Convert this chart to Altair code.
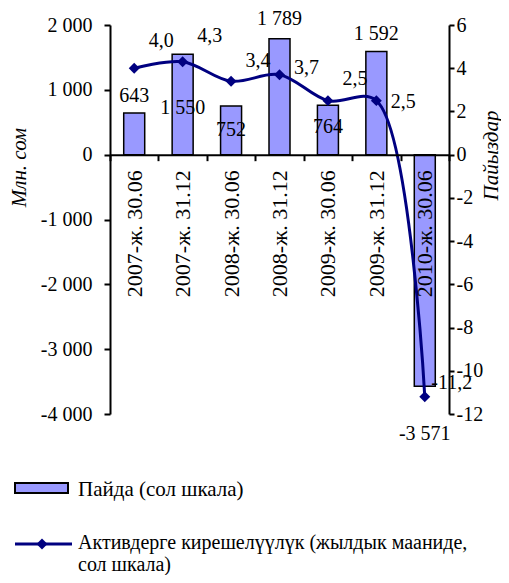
import altair as alt
import pandas as pd

categories = ["2007-ж. 30.06", "2007-ж. 31.12", "2008-ж. 30.06", "2008-ж. 31.12",
              "2009-ж. 30.06", "2009-ж. 31.12", "2010-ж. 30.06"]
profit = [643, 1550, 752, 1789, 764, 1592, -3571]
roa = [4.0, 4.3, 3.4, 3.7, 2.5, 2.5, -11.2]

left_ticks = [-4000, -3000, -2000, -1000, 0, 1000, 2000]
right_ticks = [-12, -10, -8, -6, -4, -2, 0, 2, 4, 6]

# label placement offsets (pixels, downward positive), as in the source chart
bar_label_dy = [-17, 54, 24, -20, 22, -17, 48]
line_label_dy = [-27, -26, -20, -7, -22, 1, -14]

legend_bar = "Пайда (сол шкала)"
legend_line_1 = "Активдерге кирешелүүлүк (жылдык мааниде,"
legend_line_2 = "сол шкала)"

FONT = "'Liberation Serif', 'Times New Roman', Times, serif"
NAVY = "#000080"
BAR = "#9999FF"

W, H = 339, 389
zero_px = H * 2000 / 6000
L_PER_PX = 6000 / H
R_PER_PX = 18 / H

df = pd.DataFrame({
    "cat": categories, "profit": profit, "roa": roa,
    "bdy": bar_label_dy, "ldy": line_label_dy,
})
one = pd.DataFrame({"k": [0]})

x_axis = alt.Axis(title=None, labelAngle=-90, orient="bottom",
                  offset=-(H - zero_px), tickBand="extent",
                  domainColor="black", domainWidth=2,
                  tickColor="black", tickWidth=2, tickSize=6,
                  labelFontSize=22, labelPadding=9, labelColor="black",
                  labelFont=FONT, zindex=1)
x_enc = alt.X("cat:N", sort=categories,
              scale=alt.Scale(paddingInner=0, paddingOuter=0), axis=x_axis)

lscale = alt.Scale(domain=[-4000, 2000], nice=False, zero=False)
rscale = alt.Scale(domain=[-12, 6], nice=False, zero=False)

left_axis = alt.Axis(
    title="Млн. сом", titleFont=FONT, titleFontStyle="italic", titleFontWeight="normal",
    titleFontSize=21, titleColor="black", titleAngle=-90, titleX=-91, titleY=142,
    titleAlign="center", titleBaseline="middle",
    values=left_ticks, grid=False, domainColor="black", domainWidth=2,
    tickColor="black", tickWidth=2, tickSize=6, labelFontSize=20, labelPadding=12,
    labelColor="black", labelFont=FONT,
    labelExpr="(datum.value < 0 ? '-' : '') + replace(format(abs(datum.value), ','), ',', ' ')")

right_axis = alt.Axis(
    title="Пайыздар", orient="right", titleFont=FONT, titleFontStyle="italic",
    titleFontWeight="normal", titleFontSize=21, titleColor="black", titleAngle=-90,
    titleX=42, titleY=130, titleAlign="center", titleBaseline="middle",
    values=right_ticks, grid=False, domainColor="black", domainWidth=2,
    tickColor="black", tickWidth=2, tickSize=5, labelFontSize=20, labelPadding=2,
    labelColor="black", labelFont=FONT,
    labelExpr="(datum.value < 0 ? '-' : '') + abs(datum.value)")

bars = alt.Chart(df).mark_bar(size=21, fill=BAR, stroke="black", strokeWidth=1.5).encode(
    x=x_enc, y=alt.Y("profit:Q", scale=lscale, axis=left_axis))

bar_text = alt.Chart(df).transform_calculate(
    lab="(datum.profit < 0 ? '-' : '') + replace(format(abs(datum.profit), ','), ',', ' ')",
    ly=f"datum.profit - datum.bdy * {L_PER_PX}"
).mark_text(font=FONT, fontSize=20, color="black", baseline="middle").encode(
    x=x_enc, y=alt.Y("ly:Q", scale=lscale, axis=None), text="lab:N")

line = alt.Chart(df).mark_line(color=NAVY, strokeWidth=3, interpolate="catmull-rom").encode(
    x=x_enc, y=alt.Y("roa:Q", scale=rscale, axis=right_axis))

points = alt.Chart(df).mark_point(shape="diamond", filled=True, size=120, color=NAVY, opacity=1).encode(
    x=x_enc, y=alt.Y("roa:Q", scale=rscale, axis=None))

line_text = alt.Chart(df).transform_calculate(
    lab="(datum.roa < 0 ? '-' : '') + replace(format(abs(datum.roa), '.1f'), '.', ',')",
    ly=f"datum.roa - datum.ldy * {R_PER_PX}"
).mark_text(font=FONT, fontSize=20, color="black", baseline="middle", dx=27).encode(
    x=x_enc, y=alt.Y("ly:Q", scale=rscale, axis=None), text="lab:N")

# legend
leg_rect = alt.Chart(one).mark_rect(fill=BAR, stroke="black", strokeWidth=2).encode(
    x=alt.value(-95), x2=alt.value(-42), y=alt.value(458), y2=alt.value(468))
leg_t1 = alt.Chart(one).mark_text(font=FONT, fontSize=21, color="black", align="left",
                                  baseline="middle").encode(
    x=alt.value(-32), y=alt.value(465), text=alt.value(legend_bar))
leg_rule = alt.Chart(one).mark_rule(color=NAVY, strokeWidth=3).encode(
    x=alt.value(-95), x2=alt.value(-38), y=alt.value(519))
leg_pt = alt.Chart(one).mark_point(shape="diamond", filled=True, size=120, color=NAVY, opacity=1).encode(
    x=alt.value(-68), y=alt.value(519))
leg_t2 = alt.Chart(one).mark_text(font=FONT, fontSize=20, color="black", align="left",
                                  baseline="middle").encode(
    x=alt.value(-32), y=alt.value(518), text=alt.value(legend_line_1))
leg_t3 = alt.Chart(one).mark_text(font=FONT, fontSize=20, color="black", align="left",
                                  baseline="middle").encode(
    x=alt.value(-32), y=alt.value(540), text=alt.value(legend_line_2))

chart = alt.layer(
    bars, bar_text, line, points, line_text,
    leg_rect, leg_t1, leg_rule, leg_pt, leg_t2, leg_t3
).resolve_scale(y="independent").properties(
    width=W, height=H,
    autosize=alt.AutoSizeParams(type="none"),
    padding={"left": 102, "top": 17, "right": 52, "bottom": 161},
).configure(font=FONT, background="white").configure_view(strokeWidth=0)

chart.save("out.html", embed_options={"renderer": "svg", "actions": False})
